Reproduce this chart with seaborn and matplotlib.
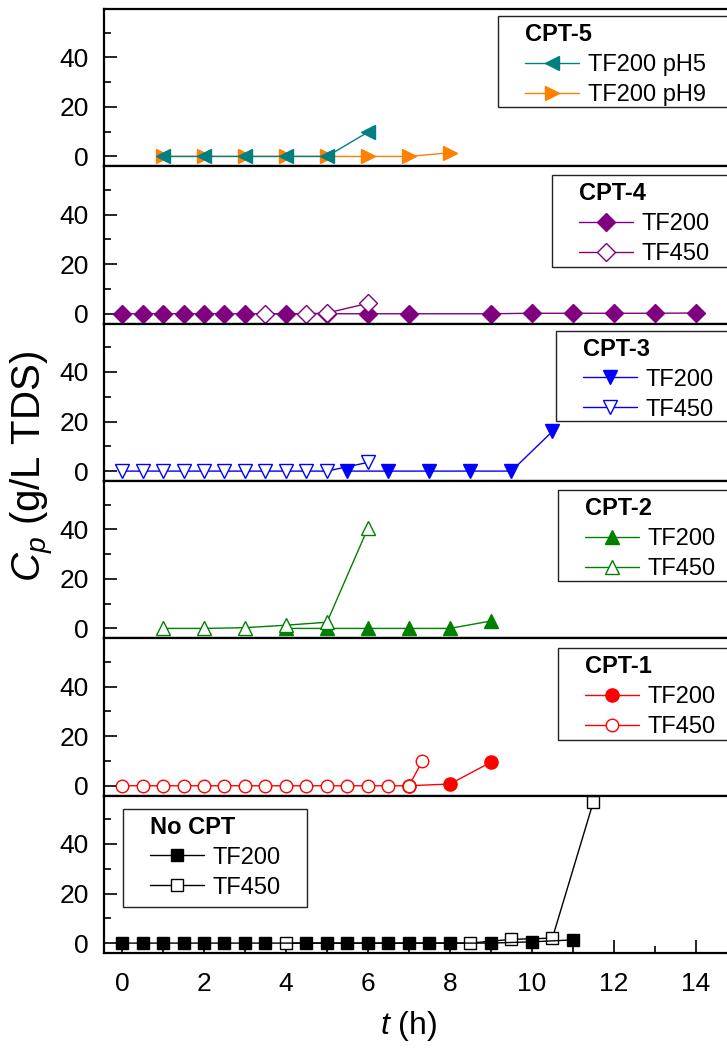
import matplotlib
matplotlib.use("Agg")
import matplotlib.pyplot as plt
import seaborn as sns
from matplotlib.patches import Rectangle
from matplotlib.ticker import MultipleLocator

# data (t in h, Cp in g/L TDS)
t_cpt5_ph5 = [1, 2, 3, 4, 5, 6]
cp_cpt5_ph5 = [0, 0, 0, 0, 0, 9.8]
t_cpt5_ph9 = [1, 2, 3, 4, 5, 6, 7, 8]
cp_cpt5_ph9 = [0, 0, 0, 0, 0, 0, 0, 1.5]

t_cpt4_200 = [0, 0.5, 1, 1.5, 2, 2.5, 3, 4, 5, 6, 7, 9, 10, 11, 12, 13, 14]
cp_cpt4_200 = [0, 0, 0, 0, 0, 0, 0, 0, 0, 0, 0, 0, 0.2, 0.2, 0.2, 0.2, 0.3]
t_cpt4_450 = [3.5, 4.5, 5, 6]
cp_cpt4_450 = [0, 0, 0.3, 4.2]

t_cpt3_200 = [5.5, 6.5, 7.5, 8.5, 9.5, 10.5]
cp_cpt3_200 = [0, 0, 0, 0, 0, 16]
t_cpt3_450 = [0, 0.5, 1, 1.5, 2, 2.5, 3, 3.5, 4, 4.5, 5, 6]
cp_cpt3_450 = [0, 0, 0, 0, 0, 0, 0, 0, 0, 0, 0, 3.5]

t_cpt2_200 = [4, 5, 6, 7, 8, 9]
cp_cpt2_200 = [0, 0, 0, 0, 0, 3]
t_cpt2_450 = [1, 2, 3, 4, 5, 6]
cp_cpt2_450 = [0, 0, 0.3, 1.3, 2.5, 40.5]

t_cpt1_200 = [7, 8, 9]
cp_cpt1_200 = [0, 0.7, 9.5]
t_cpt1_450 = [0, 0.5, 1, 1.5, 2, 2.5, 3, 3.5, 4, 4.5, 5, 5.5, 6, 6.5, 7, 7.33]
cp_cpt1_450 = [0, 0, 0, 0, 0, 0, 0, 0, 0, 0, 0, 0, 0, 0, 0, 10]

t_none_200 = [0, 0.5, 1, 1.5, 2, 2.5, 3, 3.5, 4.5, 5, 5.5, 6, 6.5, 7, 7.5, 8, 9, 10, 11]
cp_none_200 = [0, 0, 0, 0, 0, 0, 0, 0, 0, 0, 0, 0, 0, 0, 0, 0, 0, 0.5, 1.3]
t_none_450 = [4, 8.5, 9.5, 10.5, 11.5]
cp_none_450 = [0, 0, 1.5, 2, 57]

sns.set_theme(style="ticks")
plt.rcParams["font.family"] = ["Liberation Sans", "DejaVu Sans"]
plt.rcParams["text.color"] = "black"
plt.rcParams["mathtext.fontset"] = "custom"
plt.rcParams["mathtext.rm"] = "Liberation Sans"
plt.rcParams["mathtext.it"] = "Liberation Sans:italic"

# (title, series, legend box in px: left, top, bottom, right  [from panel top], legend order)
# series: (t, cp, label, color, marker, filled, markersize)
panels = [
    ("CPT-5", [(t_cpt5_ph9, cp_cpt5_ph9, "TF200 pH9", "#FF8000", ">", True, 9.5),
               (t_cpt5_ph5, cp_cpt5_ph5, "TF200 pH5", "#008080", "<", True, 9.5)],
     (498, 7, 98, 800), [1, 0]),
    ("CPT-4", [(t_cpt4_200, cp_cpt4_200, "TF200", "#800080", "D", True, 9),
               (t_cpt4_450, cp_cpt4_450, "TF450", "#800080", "D", False, 9)],
     (552, 9, 101, 800), [0, 1]),
    ("CPT-3", [(t_cpt3_200, cp_cpt3_200, "TF200", "#0000FF", "v", True, 9.5),
               (t_cpt3_450, cp_cpt3_450, "TF450", "#0000FF", "v", False, 9.5)],
     (556, 7, 97, 800), [0, 1]),
    ("CPT-2", [(t_cpt2_200, cp_cpt2_200, "TF200", "#008000", "^", True, 9.5),
               (t_cpt2_450, cp_cpt2_450, "TF450", "#008000", "^", False, 9.5)],
     (558, 9, 100, 800), [0, 1]),
    ("CPT-1", [(t_cpt1_200, cp_cpt1_200, "TF200", "#FF0000", "o", True, 9.5),
               (t_cpt1_450, cp_cpt1_450, "TF450", "#FF0000", "o", False, 9)],
     (558, 10, 102, 800), [0, 1]),
    ("No CPT", [(t_none_450, cp_none_450, "TF450", "black", "s", False, 8),
                (t_none_200, cp_none_200, "TF200", "black", "s", True, 8)],
     (123, 13, 111, 307), [1, 0]),
]

fig = plt.figure(figsize=(7.27, 10.52), dpi=100)
ax_l, ax_w = 104, 641
top, bottom = 1 - 9 / 1052, 1 - 953 / 1052
h = (top - bottom) / 6
h_px = 944 / 6


def px_axes(xpx, ypx):
    return (xpx - ax_l) / ax_w, 1 - ypx / h_px


for i, (title, series, box, order) in enumerate(panels):
    ax = fig.add_axes([ax_l / 727, top - (i + 1) * h, ax_w / 727, h])
    ax.set_facecolor("white")
    for t, cp, lab, col, mk, filled, ms in series:
        sns.lineplot(x=t, y=cp, ax=ax, color=col, linewidth=1.0, marker=mk,
                     markersize=ms, markeredgewidth=1.0, markeredgecolor=col,
                     markerfacecolor=col if filled else "white",
                     label=lab, sort=False, estimator=None)
    ax.set_xlim(-0.44, 15.2)
    ax.set_ylim(-4, 59.5)
    ax.yaxis.set_major_locator(MultipleLocator(20))
    ax.yaxis.set_minor_locator(MultipleLocator(10))
    ax.xaxis.set_major_locator(MultipleLocator(2))
    ax.xaxis.set_minor_locator(MultipleLocator(1))
    ax.tick_params(which="both", direction="in", width=1.2, colors="black",
                   labelsize=19, right=False, top=False)
    ax.tick_params(which="major", length=9.5)
    ax.tick_params(which="minor", length=5)
    ax.tick_params(axis="y", pad=11)
    ax.tick_params(axis="x", pad=14)
    for s in ax.spines.values():
        s.set_linewidth(1.6)
        s.set_color("black")
    ax.set_xlabel("")
    ax.set_ylabel("")
    if i < 5:
        ax.tick_params(axis="x", which="both", bottom=False, labelbottom=False)

    # legend frame
    bl, bt, bb, br = box
    x0, y1 = px_axes(bl, bt)
    x1, y0 = px_axes(br, bb)
    ax.add_patch(Rectangle((x0, y0), x1 - x0, y1 - y0, transform=ax.transAxes,
                           facecolor="white", edgecolor="#222222", linewidth=1.0,
                           clip_on=False, zorder=4))

    handles, labels = ax.get_legend_handles_labels()
    handles = [handles[k] for k in order]
    labels = [labels[k] for k in order]
    leg = ax.legend(handles, labels, title=title, loc="upper left",
                    bbox_to_anchor=px_axes(bl + 27, bt + 7), borderaxespad=0,
                    borderpad=0, handlelength=2.3, handletextpad=0.35,
                    labelspacing=0.34, fontsize=17, alignment="left",
                    title_fontproperties={"weight": "bold", "size": 17},
                    frameon=False, labelcolor="black")
    leg.get_title().set_color("black")
    leg.set_zorder(5)

fig.text(0.045, 0.557, r"$C_p$ (g/L TDS)", rotation=90, fontsize=29,
         ha="center", va="center", color="black")
fig.text(0.562, 0.025, r"$t$ (h)", fontsize=23, ha="center", va="center",
         color="black")

fig.savefig("out.png", dpi=100, facecolor="white")
